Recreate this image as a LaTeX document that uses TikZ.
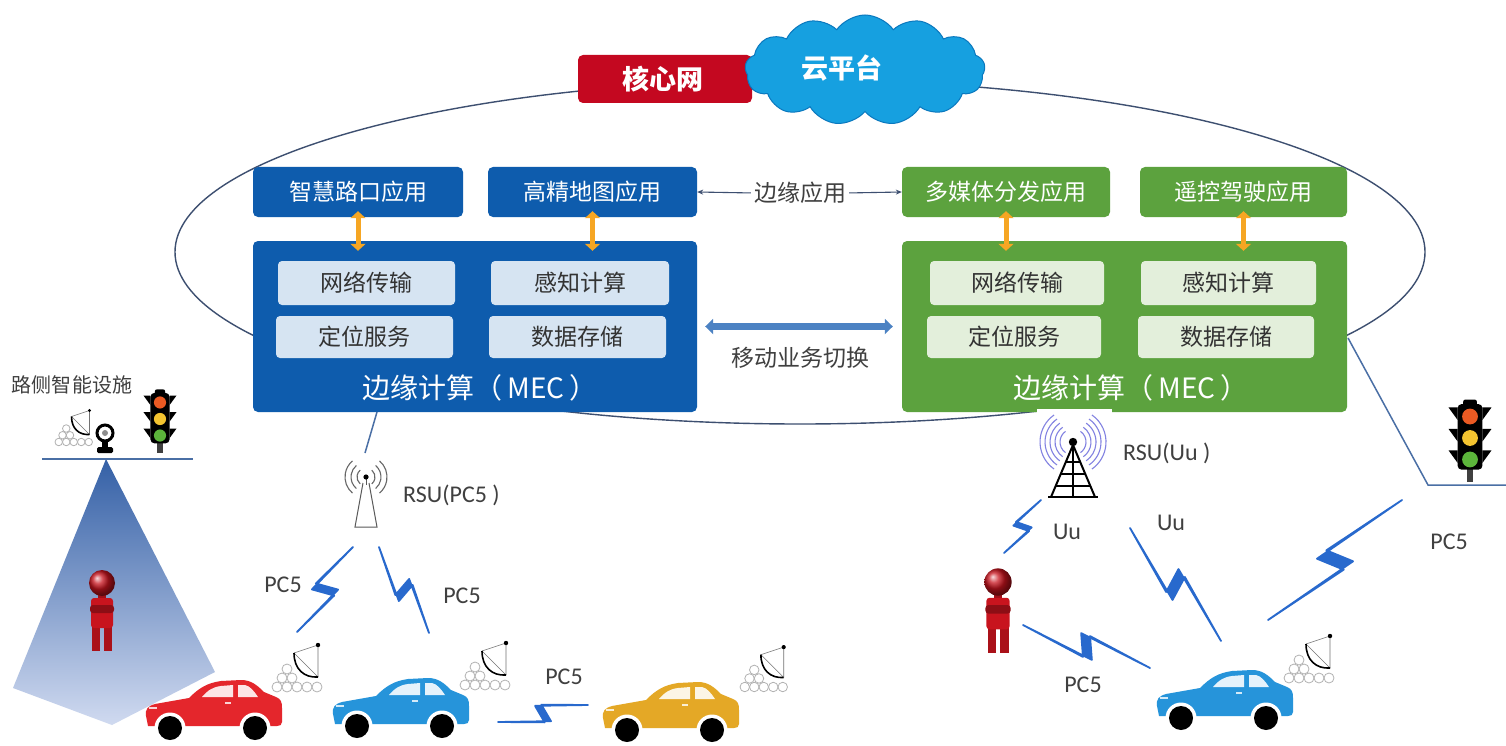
\documentclass[tikz,border=0pt]{standalone}
\usepackage{fontspec}
\setmainfont{Carlito}
\newfontfamily\cjk{Noto Sans CJK SC}
\usetikzlibrary{shapes.symbols,arrows.meta,calc}

\definecolor{mecblue}{RGB}{14,92,173}
\definecolor{mecgreen}{RGB}{92,162,62}
\definecolor{cellblue}{RGB}{214,228,242}
\definecolor{cellgreen}{RGB}{227,239,219}
\definecolor{linkorange}{RGB}{246,166,35}
\definecolor{handblue}{RGB}{76,130,195}
\definecolor{ringgray}{RGB}{61,79,112}
\definecolor{corered}{RGB}{196,8,32}
\definecolor{cloudblue}{RGB}{22,160,224}
\definecolor{clouddark}{RGB}{10,120,190}
\definecolor{boltblue}{RGB}{40,105,205}
\definecolor{labelgray}{RGB}{64,64,64}
\definecolor{carred}{RGB}{228,38,44}
\definecolor{carblue}{RGB}{38,148,218}
\definecolor{caryellow}{RGB}{228,168,38}
\definecolor{poleblue}{RGB}{74,111,165}
\definecolor{lampred}{RGB}{235,90,35}
\definecolor{lampyellow}{RGB}{244,196,48}
\definecolor{lampgreen}{RGB}{92,181,59}
\definecolor{wavepurple}{RGB}{130,130,225}
\definecolor{walker}{RGB}{200,20,30}
\definecolor{conetop}{RGB}{52,96,166}
\definecolor{conebottom}{RGB}{208,218,240}

% lightning link between two named points; #3 = zigzag offset
\newcommand\zap[3]{%
  \filldraw[boltblue, line width=1.8pt, line join=round]
    (#1) -- ($(#1)!0.57!(#2)!#3!-90:(#2)$) -- ($(#1)!0.50!(#2)!#3!90:(#2)$)
    -- (#2) -- ($(#1)!0.43!(#2)!#3!90:(#2)$) -- ($(#1)!0.50!(#2)!#3!-90:(#2)$) -- cycle;}

% car seen from the side, #1 = top-left corner, #2 = body colour
\newcommand\vehicle[2]{%
  \begin{scope}[shift={(#1)}]
    \fill[#2] (3,46) -- (1,36) .. controls (0,29) and (3,26) .. (10,24) -- (44,18)
      .. controls (54,8) and (62,3) .. (76,1) -- (96,0)
      .. controls (106,0) and (112,5) .. (119,12) -- (131,17)
      .. controls (136,19) and (137,22) .. (137,28) -- (137,42)
      .. controls (137,45) and (135,46) .. (132,46) -- cycle;
    \fill[white!88!#2] (57,17) .. controls (63,10) and (68,7) .. (76,6) -- (88,5) -- (88,17) -- cycle;
    \fill[white!88!#2] (93,5) -- (100,5) .. controls (105,6) and (109,11) .. (113,17) -- (93,17) -- cycle;
    \fill[white!80!#2] (80,22) rectangle (86,24);
    \fill[white!80!#2] (4,27) rectangle (12,29);
    \fill[white] (25,48) circle (15.5);
    \fill[white] (110,48) circle (15.5);
    \fill[black] (25,48) circle (12);
    \fill[black] (110,48) circle (12);
  \end{scope}}

% on-board unit: stacked modules and a small dish
\newcommand\sensor[2]{%
  \begin{scope}[shift={(#1)}, scale=#2]
    \foreach \i in {0,...,4} \draw[black!30, fill=white, line width=0.8] (5+10*\i,0) circle (5);
    \foreach \i in {0,1} \draw[black!30, fill=white, line width=0.8] (10+10*\i,-9) circle (5);
    \draw[black!30, fill=white, line width=0.8] (15,-18) circle (5);
    \draw[black!55, line width=0.6] (22,-34) -- (46,-42) -- (46,-10);
    \draw[black!55, line width=0.6] (22,-34) -- (46,-10);
    \draw[black, line width=1.6] (22,-34) .. controls (22,-18) and (32,-9) .. (46,-10);
    \fill[black] (46,-42) circle (2.2);
  \end{scope}}

% traffic signal, #1 = centre of the middle lamp
\newcommand\signal[2]{%
  \begin{scope}[shift={(#1)}, scale=#2]
    \fill[black!75] (-3,26) rectangle (3,39);
    \foreach \k in {-19,0,19} {
      \fill[black] (-11,\k-8) -- (-19,\k-8) -- (-11,\k+3) -- cycle;
      \fill[black] (11,\k-8) -- (19,\k-8) -- (11,\k+3) -- cycle;}
    \fill[black, rounded corners=4] (-11,-30) rectangle (11,28);
    \fill[black, rounded corners=2] (-6,-34) rectangle (6,-28);
    \fill[lampred] (0,-19) circle (7);
    \fill[lampyellow] (0,0) circle (7);
    \fill[lampgreen] (0,19) circle (7);
  \end{scope}}

% pedestrian, #1 = centre of the head
\newcommand\walkerfig[2]{%
  \begin{scope}[shift={(#1)}, scale=#2]
    \fill[walker!85!black] (-10,42) rectangle (-2,68);
    \fill[walker!85!black] (2,42) rectangle (10,68);
    \fill[walker!80!black] (-4,10) rectangle (4,17);
    \fill[walker, rounded corners=3] (-11,15) rectangle (11,45);
    \fill[walker!70!black, rounded corners=3] (-12,22) rectangle (12,30);
    \shade[ball color=walker] (0,0) circle (13);
  \end{scope}}

\begin{document}
\begin{tikzpicture}[x=1pt,y=-1pt,
  appbox/.style={rounded corners=5pt, minimum height=50pt, inner sep=0pt, text=white,
    font=\cjk\fontsize{23}{27}\selectfont},
  cellbox/.style={rounded corners=4pt, inner sep=0pt, text=black!80,
    font=\cjk\fontsize{23}{27}\selectfont},
  mecbox/.style={rounded corners=5pt, minimum width=445pt, minimum height=171pt, inner sep=0pt},
  mectitle/.style={text=white, font=\cjk\fontsize{28}{32}\selectfont, inner sep=0pt},
  cjklabel/.style={text=labelgray, font=\cjk\fontsize{23}{27}\selectfont, inner sep=0pt},
  latlabel/.style={text=labelgray, font=\fontsize{24}{28}\selectfont, inner sep=0pt},
  orangelink/.style={linkorange, line width=5pt,
    {Triangle[length=7pt,width=15pt]}-{Triangle[length=7pt,width=15pt]},
    shorten <=-6pt, shorten >=-10pt},
  handover/.style={handblue, line width=7pt,
    {Triangle[length=8pt,width=15pt]}-{Triangle[length=8pt,width=15pt]},
    shorten <=8pt, shorten >=9pt},
  thinarrow/.style={ringgray, line width=1.1pt, -{Stealth[length=6pt,width=5pt]}, shorten <=3pt},
  poleline/.style={poleblue, line width=1.5pt}]

\useasboundingbox (0,0) rectangle (1506,746);
\fill[white] (0,0) rectangle (1506,746);

% ring joining the core network and both edge sites
\draw[ringgray, line width=1.4pt] (800,252) ellipse [x radius=625, y radius=172];

% core network and cloud
\node[fill=corered, rounded corners=5pt, minimum width=174pt, minimum height=48pt, inner sep=0pt,
  text=white, font=\cjk\bfseries\fontsize{27}{30}\selectfont] (core) at (665,79) {\hspace*{-4pt}核心网};
\node[cloud, cloud puffs=13, cloud puff arc=110, aspect=2.2, fill=cloudblue, draw=clouddark,
  line width=1pt, minimum width=240pt, minimum height=110pt, inner sep=0pt] (cloud) at (865,70) {};
\node[text=white, font=\cjk\bfseries\fontsize{27}{30}\selectfont, inner sep=0pt] (cloudtxt) at (842,68) {云平台};

% left edge site
\node[appbox, fill=mecblue, minimum width=210pt] (appL1) at (358,192) {智慧路口应用};
\node[appbox, fill=mecblue, minimum width=209pt] (appL2) at (592.5,192) {高精地图应用};
\node[mecbox, fill=mecblue, minimum width=444pt] (mecL) at (475,326.5) {};
\node[cellbox, fill=cellblue, minimum width=177pt, minimum height=44pt] (netL) at (366.5,283) {网络传输};
\node[cellbox, fill=cellblue, minimum width=178pt, minimum height=44pt] (senseL) at (580,283) {感知计算};
\node[cellbox, fill=cellblue, minimum width=177pt, minimum height=42pt] (posL) at (364.5,337) {定位服务};
\node[cellbox, fill=cellblue, minimum width=177pt, minimum height=42pt] (storeL) at (577.5,337) {数据存储};
\node[mectitle] (titleL) at (480,388) {边缘计算（\,MEC\,）};
\draw[orangelink] (appL1.south) -- (appL1.south |- mecL.north);
\draw[orangelink] (appL2.south) -- (appL2.south |- mecL.north);

% right edge site
\node[appbox, fill=mecgreen, minimum width=208pt] (appR1) at (1006,192) {多媒体分发应用};
\node[appbox, fill=mecgreen, minimum width=207pt] (appR2) at (1243.5,192) {遥控驾驶应用};
\node[mecbox, fill=mecgreen] (mecR) at (1124.5,326.5) {};
\node[cellbox, fill=cellgreen, minimum width=174pt, minimum height=44pt] (netR) at (1017,283) {网络传输};
\node[cellbox, fill=cellgreen, minimum width=175pt, minimum height=44pt] (senseR) at (1228.5,283) {感知计算};
\node[cellbox, fill=cellgreen, minimum width=174pt, minimum height=42pt] (posR) at (1014,337) {定位服务};
\node[cellbox, fill=cellgreen, minimum width=176pt, minimum height=42pt] (storeR) at (1226,337) {数据存储};
\node[mectitle] (titleR) at (1131,388) {边缘计算（\,MEC\,）};
\draw[orangelink] (appR1.south) -- (appR1.south |- mecR.north);
\draw[orangelink] (appR2.south) -- (appR2.south |- mecR.north);

% links between the two sites
\node[cjklabel] (edgeapp) at (800,193) {边缘应用};
\draw[thinarrow] (edgeapp.west) -- (appL2.east);
\draw[thinarrow] (edgeapp.east) -- (appR1.west);
\draw[handover] (mecL.east) -- (mecR.west);
\node[cjklabel] (handtxt) at (800,358) {移动业务切换};

% roadside facilities on the left
\node[text=labelgray, font=\cjk\fontsize{20}{24}\selectfont, inner sep=0pt] (roadside) at (72,385) {路侧智能设施};
\coordinate (camL) at (106,459);
\shade[top color=conetop, bottom color=conebottom] (camL) -- (13,688) -- (112,725) -- (215,672) -- cycle;
\coordinate (groundLa) at (42,459);
\coordinate (groundLb) at (193,459);
\draw[poleline] (groundLa) -- (groundLb);
\draw[black, line width=3pt] (105,433) circle (8);
\fill[black!45] (105,433) circle (3);
\fill[black] (102,441) rectangle (108,448);
\fill[black, rounded corners=1.5] (97,447) rectangle (113,453);
\sensor{55,442}{0.75}
\signal{160,419}{0.87}
\walkerfig{102,583}{1}

% RSU (PC5) on the left
\coordinate (mecLfoot) at (377,412);
\coordinate (rsuL) at (366,477);
\coordinate (rsuLtop) at (365,453);
\draw[poleblue, line width=1.5pt] (mecLfoot) -- (rsuLtop);
\begin{scope}[shift={(rsuL)}]
  \draw[black!65, line width=1pt] (-3,6) -- (-11,50) -- (11,50) -- (3,6);
  \draw[black!65, line width=1pt] (0,0) -- (0,8);
  \fill[black] (0,0) circle (2.6);
  \foreach \r in {9,15,21} {
    \draw[black!60, line width=1.1pt] (130:\r) arc[start angle=130, end angle=230, radius=\r];
    \draw[black!60, line width=1.1pt] (-50:\r) arc[start angle=-50, end angle=50, radius=\r];}
\end{scope}
\node[latlabel, anchor=west] (rsuLtxt) at (403,495) {RSU(PC5 )};

% vehicles on the left
\coordinate (carA) at (145,680);
\coordinate (carB) at (332,678);
\coordinate (carC) at (602,682);
\vehicle{carA}{carred}
\vehicle{carB}{carblue}
\vehicle{carC}{caryellow}
\sensor{272,687}{1}
\sensor{460,685}{1}
\sensor{740,687}{0.95}

\coordinate (b1s) at (297,632); \coordinate (b1e) at (353,547);
\coordinate (b2s) at (379,547); \coordinate (b2e) at (429,633);
\coordinate (b3s) at (498,722); \coordinate (b3e) at (588,705);
\zap{b1s}{b1e}{11pt}
\zap{b2s}{b2e}{10pt}
\zap{b3s}{b3e}{9pt}
\node[latlabel] (pc5a) at (283,585) {PC5};
\node[latlabel] (pc5b) at (462,596) {PC5};
\node[latlabel] (pc5c) at (564,677) {PC5};

% RSU (Uu) on the right
\fill[white] (1037,409) rectangle (1112,414);
\coordinate (rsuR) at (1073,442);
\begin{scope}[shift={(rsuR)}]
  \foreach \r in {13,18,23,28,33} {
    \draw[wavepurple, line width=1.1pt] (125:\r) arc[start angle=125, end angle=235, radius=\r];
    \draw[wavepurple, line width=1.1pt] (-55:\r) arc[start angle=-55, end angle=55, radius=\r];}
  \draw[black, line width=2pt] (0,3) -- (-22,55) (0,3) -- (22,55);
  \draw[black, line width=2pt] (-25,55) -- (25,55);
  \draw[black, line width=1.6pt] (-7,20) -- (7,20) (-12,32) -- (12,32) (-17,44) -- (17,44);
  \draw[black, line width=1.2pt] (0,3) -- (0,55);
  \fill[black] (0,0) circle (4.2);
\end{scope}
\node[latlabel, anchor=west] (rsuRtxt) at (1123,453) {RSU(Uu )};

% traffic signal on the right, wired to the green site
\coordinate (mecRfoot) at (1348,338);
\coordinate (groundRa) at (1428,485);
\coordinate (groundRb) at (1506,485);
\draw[poleline] (mecRfoot) -- (groundRa) -- (groundRb);
\signal{1470,438}{1.13}

% pedestrian and vehicle on the right
\walkerfig{998,582}{1.05}
\coordinate (carD) at (1156,670);
\vehicle{carD}{carblue}
\sensor{1284,678}{1}

\coordinate (b4s) at (1004,553); \coordinate (b4e) at (1041,500);
\coordinate (b5s) at (1130,528); \coordinate (b5e) at (1221,641);
\coordinate (b6s) at (1023,625); \coordinate (b6e) at (1150,668);
\coordinate (b7s) at (1268,620); \coordinate (b7e) at (1402,500);
\zap{b4s}{b4e}{8pt}
\zap{b5s}{b5e}{12pt}
\zap{b6s}{b6e}{11pt}
\zap{b7s}{b7e}{13pt}
\node[latlabel] (uua) at (1067,532) {Uu};
\node[latlabel] (uub) at (1171,523) {Uu};
\node[latlabel] (pc5d) at (1083,685) {PC5};
\node[latlabel] (pc5e) at (1449,542) {PC5};
\end{tikzpicture}
\end{document}
